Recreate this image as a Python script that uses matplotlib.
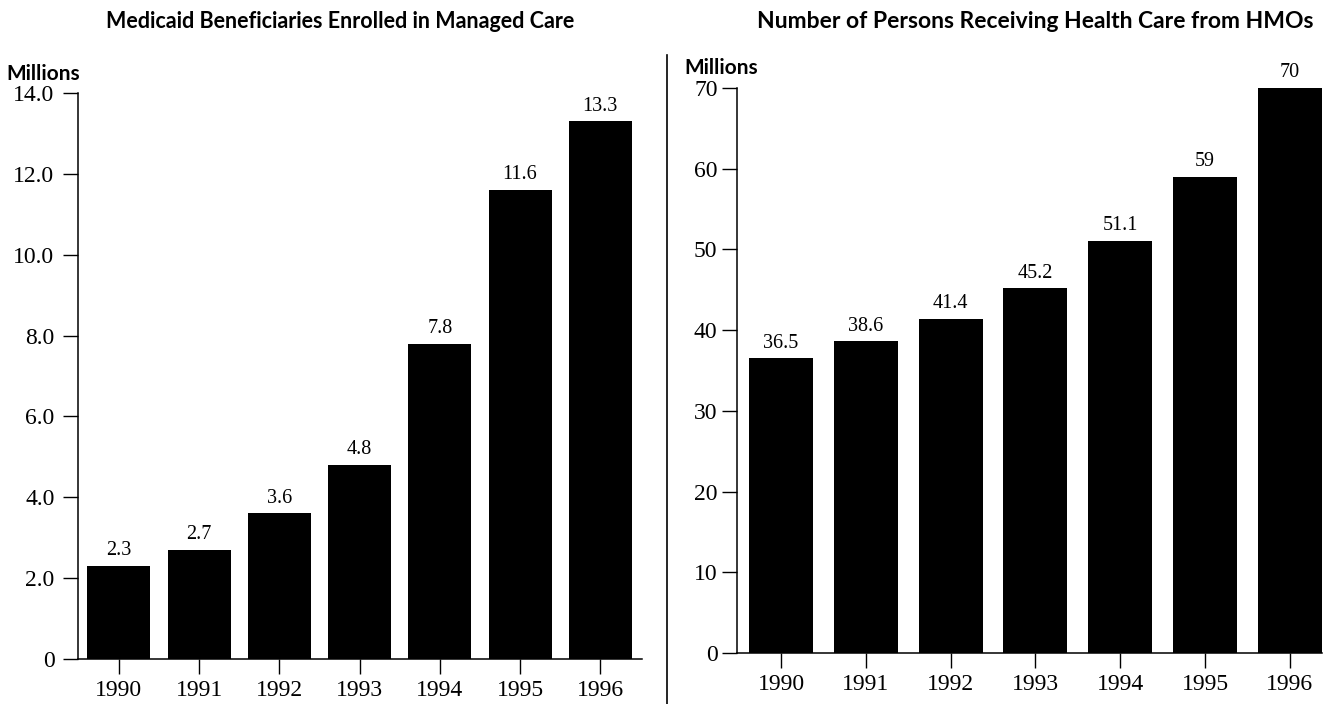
import matplotlib
matplotlib.use("Agg")
import matplotlib.pyplot as plt
from matplotlib.lines import Line2D

years = ["1990", "1991", "1992", "1993", "1994", "1995", "1996"]
medicaid = [2.3, 2.7, 3.6, 4.8, 7.8, 11.6, 13.3]
medicaid_labels = ["2.3", "2.7", "3.6", "4.8", "7.8", "11.6", "13.3"]
hmo = [36.5, 38.6, 41.4, 45.2, 51.1, 59, 70]
hmo_labels = ["36.5", "38.6", "41.4", "45.2", "51.1", "59", "70"]
left_ticks = [0, 2, 4, 6, 8, 10, 12, 14]
left_ticklabels = ["0", "2.0", "4.0", "6.0", "8.0", "10.0", "12.0", "14.0"]
right_ticks = [0, 10, 20, 30, 40, 50, 60, 70]
right_ticklabels = ["0", "10", "20", "30", "40", "50", "60", "70"]

W, H = 1327, 704
fig = plt.figure(figsize=(W / 100, H / 100), dpi=100)

serif = "Liberation Serif"
sans = "Lato"

def px(l, r, b, t):
    return [l / W, 1 - b / H, (r - l) / W, (b - t) / H]

def panel(rect, vals, labels, ticks, ticklabels, ymax, xlim, width, title, title_x,
          title_size, mill_x, mill_y, ypad):
    ax = fig.add_axes(rect)
    x = range(len(vals))
    ax.bar(x, vals, width=width, color="black", zorder=2)
    for xi, v, lab in zip(x, vals, labels):
        ax.annotate(lab, (xi, v), xytext=(0, 4), textcoords="offset points",
                    ha="center", va="bottom", fontsize=14.5, family=serif)
    ax.set_xlim(*xlim)
    ax.set_ylim(0, ymax)
    ax.set_xticks(list(x))
    ax.set_xticklabels(years, fontsize=17, family=serif)
    ax.set_yticks(ticks)
    ax.set_yticklabels(ticklabels, fontsize=17, family=serif)
    for s in ["top", "right"]:
        ax.spines[s].set_visible(False)
    ax.spines["left"].set_linewidth(1.1)
    ax.spines["bottom"].set_linewidth(1.1)
    ax.tick_params(axis="both", direction="out", length=11, width=1.0)
    ax.tick_params(axis="x", pad=4)
    ax.tick_params(axis="y", pad=ypad)
    fig.text(title_x / W, 1 - 22 / H, title, ha="center", va="center",
             fontsize=title_size, fontweight="bold", family=sans)
    fig.text(mill_x / W, 1 - mill_y / H, "Millions", ha="left", va="center",
             fontsize=15, fontweight="bold", family=sans)
    return ax

panel(px(78, 642, 659, 93), medicaid, medicaid_labels, left_ticks, left_ticklabels,
      14, (-0.51, 6.52), 0.785, "Medicaid Beneficiaries Enrolled in Managed Care", 340,
      15.5, 6, 74, 6)
panel(px(737, 1322, 653, 88), hmo, hmo_labels, right_ticks, right_ticklabels,
      70, (-0.52, 6.38), 0.755, "Number of Persons Receiving Health Care from HMOs", 1035,
      16.5, 684, 68, 3)

fig.add_artist(Line2D([667 / W, 667 / W], [1 - 55 / H, 0], color="black", lw=1.2))

fig.savefig("out.png", dpi=100)
